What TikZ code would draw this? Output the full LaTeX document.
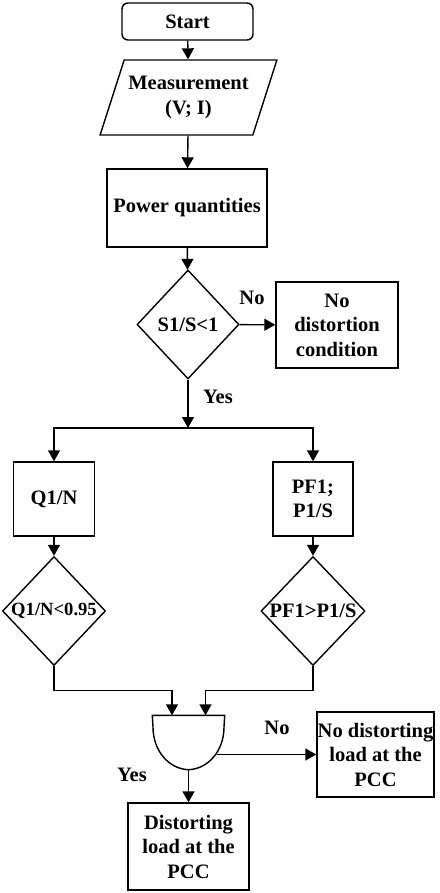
\documentclass[tikz,border=0pt]{standalone}
\usepackage{fontspec}
\setmainfont{Liberation Serif}
\usetikzlibrary{shapes.geometric,arrows.meta}
\begin{document}
\begin{tikzpicture}[x=1pt,y=-1pt,line width=1.4pt,
  every node/.style={font=\fontsize{20.5}{24.5}\selectfont\bfseries,align=center,inner sep=0pt},
  box/.style={draw,rectangle},
  decision/.style={draw,diamond},
  arr/.style={-{Triangle[width=12pt,length=11pt]}}]
  \useasboundingbox (0,0) rectangle (439,893);
  \node[box,rounded corners=6pt,minimum width=131,minimum height=37] (start) at (187.5,21.5) {Start};
  \node[draw,trapezium,trapezium left angle=62,trapezium right angle=118,trapezium stretches=true,
    minimum width=177,minimum height=75] (meas) at (188.5,97.5) {Measurement\\(V; I)};
  \node[box,minimum width=160,minimum height=78] (power) at (187,208) {Power quantities};
  \node[decision,minimum width=102,minimum height=109] (dec1) at (188,324.5) {S1/S<1};
  \node[box,minimum width=122,minimum height=86] (nodist) at (337,325) {No\\distortion\\condition};
  \coordinate (split) at (188,428);
  \node[box,minimum width=81,minimum height=74] (q1n) at (54,499) {Q1/N};
  \node[box,minimum width=80,minimum height=74] (pf1) at (313,499) {PF1;\\P1/S};
  \node[decision,minimum width=103,minimum height=109,
    label={[font=\fontsize{18.6}{22}\selectfont\bfseries]center:{Q1/N<0.95}}] (dec2) at (54,611) {};
  \node[decision,minimum width=104,minimum height=109,label=center:{PF1>P1/S}] (dec3) at (313,611) {};
  \node[minimum width=71,minimum height=53] (gate) at (188.5,742.5) {};
  \draw (gate.north west) -- (gate.north east) -- (224,727)
    .. controls (224,751) and (208,769) .. (gate.south)
    .. controls (169,769) and (153,751) .. (153,727) -- cycle;
  \node[box,minimum width=117,minimum height=85] (nodist2) at (375.5,754.5) {No distorting\\load at the\\PCC};
  \node[box,minimum width=121,minimum height=87] (dist) at (188.5,846.5) {Distorting\\load at the\\PCC};
  \node (no1) at (252,298) {No};
  \node (yes1) at (218,397) {Yes};
  \node (no2) at (277,728) {No};
  \node (yes2) at (132,775) {Yes};
  \draw[arr] (start) -- (meas);
  \draw[arr] (meas) -- (power);
  \draw[arr] (power) -- (dec1);
  \draw[arr] (dec1) -- (nodist);
  \draw[arr] (dec1.south) -- (split);
  \draw[arr] (split) -| (q1n.north);
  \draw[arr] (split) -| (pf1.north);
  \draw[arr] (q1n) -- (dec2);
  \draw[arr] (pf1) -- (dec3);
  \draw[arr] (dec2.south) -- ++(0,24) -| ([xshift=-16.5pt]gate.north);
  \draw[arr] (dec3.south) -- ++(0,24) -| ([xshift=17pt]gate.north);
  \draw[arr,shorten <=28pt] (gate.center |- nodist2.west) -- (nodist2.west);
  \draw[arr] (gate.south) -- (dist.north);
\end{tikzpicture}
\end{document}
